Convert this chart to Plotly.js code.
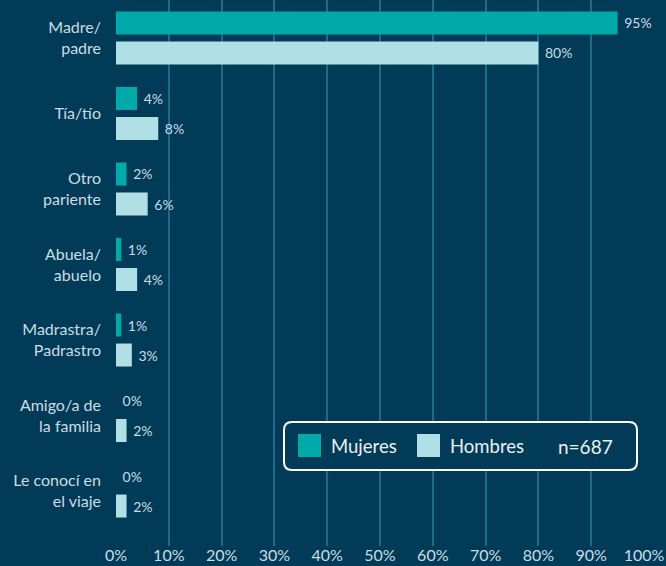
<!DOCTYPE html>
<html>
<head>
<meta charset="utf-8">
<script src="https://cdn.plot.ly/plotly-3.0.1.min.js"></script>
<style>
html,body{margin:0;padding:0;background:#023b57;}
#chart{width:666px;height:566px;}
</style>
</head>
<body>
<div id="chart"></div>
<script>
const categories = ["Madre/<br>padre", "Tía/tío", "Otro<br>pariente", "Abuela/<br>abuelo", "Madrastra/<br>Padrastro", "Amigo/a de<br>la familia", "Le conocí en<br>el viaje"];
const mujeres = [95, 4, 2, 1, 1, 0, 0];
const hombres = [80, 8, 6, 4, 3, 2, 2];
const xTicks = [0, 10, 20, 30, 40, 50, 60, 70, 80, 90, 100];
const sampleNote = "n=687";

const BG = "#023b57";
const C_M = "#00a9aa";
const C_H = "#b0dfe5";
const TXT = "#c9dde4";
const GRID = "#1d6a89";
const FONT = "Lato, 'Noto Sans', sans-serif";

const W = 666, H = 566, ML = 116, MR = 22, MT = 0, MB = 20;
const PW = W - ML - MR, PH = H - MT - MB;
const px = v => (v - ML) / PW;
const py = v => 1 - (v - MT) / PH;

function barTrace(name, vals, color) {
  return {
    type: "bar", orientation: "h", name: name,
    y: categories, x: vals,
    marker: {color: color, line: {width: 0}},
    text: vals.map(v => "\u00a0" + v + "%"),
    textposition: "outside",
    textfont: {family: FONT, size: 14, color: TXT},
    cliponaxis: false,
    constraintext: "none",
    hoverinfo: "skip"
  };
}

const data = [barTrace("Mujeres", mujeres, C_M), barTrace("Hombres", hombres, C_H)];

// rounded legend box path in pixels
const bw = 353, bh = 48, r = 8;
const boxPath = `M ${r},0 L ${bw - r},0 Q ${bw},0 ${bw},${r} L ${bw},${bh - r} Q ${bw},${bh} ${bw - r},${bh} L ${r},${bh} Q 0,${bh} 0,${bh - r} L 0,${r} Q 0,0 ${r},0 Z`;

const layout = {
  width: W, height: H,
  margin: {l: ML, r: MR, t: MT, b: MB, pad: 0},
  paper_bgcolor: BG, plot_bgcolor: BG,
  barmode: "group", bargap: 0.205, bargroupgap: 0.233,
  showlegend: false,
  font: {family: FONT, color: TXT},
  xaxis: {
    range: [0, 100], fixedrange: true,
    tickvals: xTicks, ticktext: xTicks.map(v => v + "%"),
    tickfont: {family: FONT, size: 16, color: TXT},
    showgrid: true, gridcolor: GRID, gridwidth: 2,
    zeroline: false, showline: false, ticks: "",
    ticklabelstandoff: -2
  },
  yaxis: {
    type: "category",
    range: [6.728, -0.503], fixedrange: true,
    tickfont: {family: FONT, size: 16, color: TXT},
    showgrid: false, zeroline: false, showline: false, ticks: "",
    ticklabelstandoff: 14
  },
  shapes: [
    {type: "path", xref: "paper", yref: "paper", xsizemode: "pixel", ysizemode: "pixel",
     xanchor: px(284), yanchor: py(470), path: boxPath,
     line: {color: "#ffffff", width: 2}, fillcolor: BG, layer: "above"},
    {type: "rect", xref: "paper", yref: "paper", x0: px(298), x1: px(321), y0: py(457), y1: py(434),
     fillcolor: C_M, line: {width: 0}, layer: "above"},
    {type: "rect", xref: "paper", yref: "paper", x0: px(417), x1: px(440), y0: py(457), y1: py(434),
     fillcolor: C_H, line: {width: 0}, layer: "above"}
  ],
  annotations: [
    {text: "Mujeres", xref: "paper", yref: "paper", x: px(329), y: py(446), xanchor: "left", yanchor: "middle",
     showarrow: false, font: {family: FONT, size: 18.5, color: "#e8f1f4"}},
    {text: "Hombres", xref: "paper", yref: "paper", x: px(448), y: py(446), xanchor: "left", yanchor: "middle",
     showarrow: false, font: {family: FONT, size: 18.5, color: "#e8f1f4"}},
    {text: sampleNote, xref: "paper", yref: "paper", x: px(556), y: py(446), xanchor: "left", yanchor: "middle",
     showarrow: false, font: {family: FONT, size: 19, color: "#e8f1f4"}}
  ]
};

Plotly.newPlot("chart", data, layout, {displayModeBar: false, staticPlot: true});
</script>
</body>
</html>
